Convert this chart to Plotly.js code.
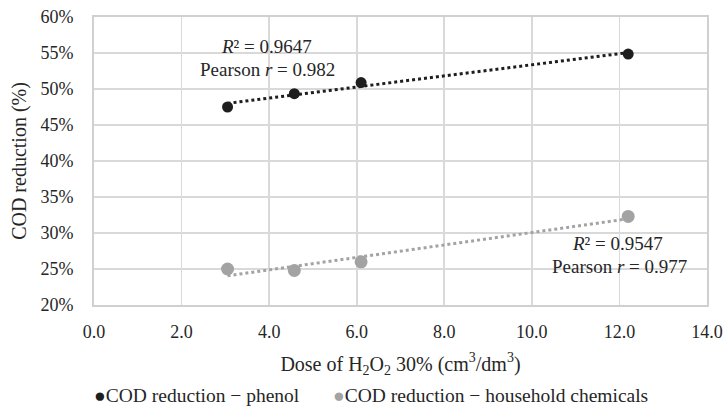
<!DOCTYPE html>
<html><head><meta charset="utf-8">
<script src="https://cdn.plot.ly/plotly-3.0.1.min.js"></script>
<style>html,body{margin:0;padding:0;background:#fff}#chart{width:728px;height:406px}</style>
</head><body><div id="chart"></div>
<script>
const doses = [3.05, 4.575, 6.1, 12.2];
const phenol = [47.5, 49.35, 50.9, 54.85];
const household = [25.0, 24.8, 26.0, 32.3];
const xTicks = [0, 2, 4, 6, 8, 10, 12, 14];
const yTicks = [20, 25, 30, 35, 40, 45, 50, 55, 60];
const seriesNames = ['COD reduction \u2212 phenol', 'COD reduction \u2212 household chemicals'];
const stats = [{r2: '0.9647', r: '0.982'}, {r2: '0.9547', r: '0.977'}];

function fit(x, y) {
  const n = x.length;
  const mx = x.reduce((a, b) => a + b, 0) / n;
  const my = y.reduce((a, b) => a + b, 0) / n;
  let sxy = 0, sxx = 0;
  for (let i = 0; i < n; i++) { sxy += (x[i] - mx) * (y[i] - my); sxx += (x[i] - mx) ** 2; }
  const b = sxy / sxx, a = my - b * mx;
  const xs = [Math.min(...x), Math.max(...x)];
  return {x: xs, y: xs.map(v => a + b * v)};
}
const fP = fit(doses, phenol), fH = fit(doses, household);
const cP = '#1e1e1e', cH = '#a3a3a3';
const font = 'Liberation Serif';
const tc = '#262626';

const traces = [
  {x: fP.x, y: fP.y, mode: 'lines', line: {color: cP, width: 3, dash: 'dot'}, showlegend: false, hoverinfo: 'skip'},
  {x: fH.x, y: fH.y, mode: 'lines', line: {color: cH, width: 3, dash: 'dot'}, showlegend: false, hoverinfo: 'skip'},
  {x: doses, y: phenol, mode: 'markers', name: seriesNames[0], showlegend: false, marker: {color: cP, size: 11}},
  {x: doses, y: household, mode: 'markers', name: seriesNames[1], showlegend: false, marker: {color: cH, size: 13}}
];

const annFont = {size: 19, family: font, color: tc};
const legFont = {size: 19.5, family: font, color: tc};
const dot = c => '<span style="color:' + c + '">\u25CF</span>';
const layout = {
  width: 728, height: 406,
  margin: {l: 94, r: 21, t: 17, b: 101},
  paper_bgcolor: '#fff', plot_bgcolor: '#fff',
  font: {family: font, size: 18, color: tc},
  showlegend: false,
  xaxis: {
    range: [0, 14], tickvals: xTicks, ticktext: xTicks.map(v => v.toFixed(1)),
    tickfont: {family: font, size: 18, color: tc},
    showgrid: true, gridcolor: '#d9d9d9', gridwidth: 1.8,
    showline: true, linecolor: '#d0d0d0', linewidth: 1.8, mirror: true,
    zeroline: false, ticks: 'outside', ticklen: 10, tickcolor: 'rgba(0,0,0,0)',
    title: {text: 'Dose of H<sub>2</sub>O<sub>2</sub> 30% (cm<sup>3</sup>/dm<sup>3</sup>)', font: {size: 20, family: font, color: tc}, standoff: 15}
  },
  yaxis: {
    range: [20, 60], tickvals: yTicks, ticktext: yTicks.map(v => v + '%'),
    tickfont: {family: font, size: 18, color: tc},
    showgrid: true, gridcolor: '#d9d9d9', gridwidth: 1.8,
    showline: true, linecolor: '#d0d0d0', linewidth: 1.8, mirror: true,
    zeroline: false, ticks: 'outside', ticklen: 15, tickcolor: 'rgba(0,0,0,0)',
    title: {text: 'COD reduction (%)', font: {size: 20, family: font, color: tc}, standoff: 8}
  },
  annotations: [
    {x: 3.95, y: 55.9, xref: 'x', yref: 'y', showarrow: false, text: '<i>R</i>\u00b2 = ' + stats[0].r2, font: annFont},
    {x: 3.97, y: 52.7, xref: 'x', yref: 'y', showarrow: false, text: 'Pearson <i>r</i> = ' + stats[0].r, font: annFont},
    {x: 11.96, y: 28.5, xref: 'x', yref: 'y', showarrow: false, text: '<i>R</i>\u00b2 = ' + stats[1].r2, font: annFont},
    {x: 12.0, y: 25.4, xref: 'x', yref: 'y', showarrow: false, text: 'Pearson <i>r</i> = ' + stats[1].r, font: annFont},
    {x: 92, y: 395, xref: 'paper', yref: 'paper', showarrow: false, xanchor: 'left', yanchor: 'middle',
     text: dot(cP) + seriesNames[0], font: legFont},
    {x: 331, y: 395, xref: 'paper', yref: 'paper', showarrow: false, xanchor: 'left', yanchor: 'middle',
     text: dot(cH) + seriesNames[1], font: legFont}
  ]
};
// legend annotations positioned in pixels -> paper fractions
const pw = 728 - 94 - 21, ph = 406 - 17 - 101;
layout.annotations.slice(4).forEach(a => { a.x = (a.x - 94) / pw; a.y = (406 - 101 - a.y) / ph; });
Plotly.newPlot('chart', traces, layout, {displayModeBar: false, staticPlot: true});
</script></body></html>
